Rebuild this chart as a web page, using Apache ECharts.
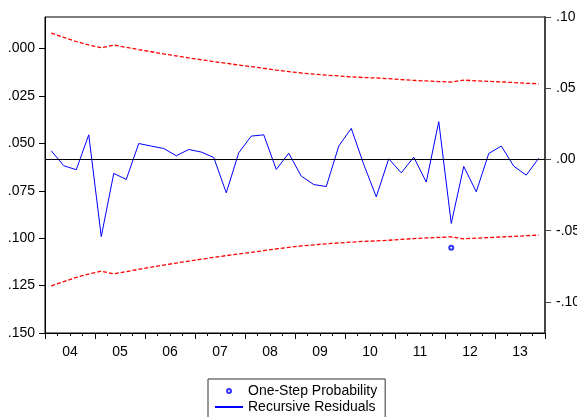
<!DOCTYPE html>
<html>
<head>
<meta charset="utf-8">
<script src="https://cdn.jsdelivr.net/npm/echarts@6/dist/echarts.min.js"></script>
<style>html,body{margin:0;padding:0;background:#fff;}#c{width:577px;height:417px;}</style>
</head>
<body>
<div id="c"></div>
<script>
// Quarterly observations 2004Q1 - 2013Q4
const years = ['04','05','06','07','08','09','10','11','12','13'];
const quarters = [];
years.forEach(y => { for (let q = 1; q <= 4; q++) quarters.push('20' + y + 'Q' + q); });

const recursiveResiduals = [
  0.0061, -0.0044, -0.0072, 0.0173, -0.0541, -0.0098, -0.0140, 0.0112, 0.0094, 0.0077,
  0.0026, 0.0070, 0.0052, 0.0014, -0.0234, 0.0047, 0.0164, 0.0173, -0.0070, 0.0044,
  -0.0117, -0.0176, -0.0190, 0.0094, 0.0218, -0.0035, -0.0262, 0.0005, -0.0094, 0.0016,
  -0.0159, 0.0265, -0.0449, -0.0049, -0.0227, 0.0042, 0.0094, -0.0047, -0.0110, 0.0009
];
const upperBand = [
  0.0887, 0.0857, 0.0828, 0.0804, 0.0784, 0.0803, 0.0787, 0.0771, 0.0756, 0.0741,
  0.0727, 0.0713, 0.0700, 0.0687, 0.0675, 0.0663, 0.0652, 0.0640, 0.0627, 0.0617,
  0.0607, 0.0599, 0.0592, 0.0586, 0.0580, 0.0575, 0.0572, 0.0567, 0.0561, 0.0555,
  0.0551, 0.0547, 0.0543, 0.0557, 0.0552, 0.0548, 0.0544, 0.0540, 0.0535, 0.0531
];
const lowerBand = [
  -0.0887, -0.0857, -0.0828, -0.0804, -0.0784, -0.0803, -0.0787, -0.0771, -0.0756, -0.0741,
  -0.0727, -0.0713, -0.0700, -0.0687, -0.0675, -0.0663, -0.0652, -0.0640, -0.0627, -0.0617,
  -0.0607, -0.0599, -0.0592, -0.0586, -0.0580, -0.0575, -0.0572, -0.0567, -0.0561, -0.0555,
  -0.0551, -0.0547, -0.0543, -0.0557, -0.0552, -0.0548, -0.0544, -0.0540, -0.0535, -0.0531
];
// One-step probabilities shown only where below .15
const oneStepProbability = [
  null, null, null, null, null, null, null, null, null, null,
  null, null, null, null, null, null, null, null, null, null,
  null, null, null, null, null, null, null, null, null, null,
  null, null, 0.105, null, null, null, null, null, null, null
];
const probTicks = [0, 0.025, 0.05, 0.075, 0.1, 0.125, 0.15];
const residTicks = [-0.1, -0.05, 0, 0.05, 0.1];

const FONT = 'Liberation Sans, Arial, sans-serif';
const fmt = (v, d) => { const s = v.toFixed(d); return s.replace('0.', '.'); };

const chart = echarts.init(document.getElementById('c'), null, {renderer: 'canvas'});
chart.setOption({
  animation: false,
  backgroundColor: '#fff',
  grid: {left: 45, right: 32, top: 17, bottom: 84, outerBoundsMode: 'none', containLabel: false,
    show: true, borderColor: '#000', borderWidth: 1, backgroundColor: 'transparent'},
  xAxis: [
    {
      type: 'category', data: quarters, position: 'bottom', boundaryGap: true,
      axisLine: {onZero: false, lineStyle: {color: '#000', width: 1}},
      axisTick: {show: true, interval: 0, length: 3, lineStyle: {color: '#000'}},
      axisLabel: {show: false}, splitLine: {show: false}
    },
    {
      type: 'category', data: years, position: 'bottom', boundaryGap: true,
      axisLine: {onZero: false, lineStyle: {color: '#000', width: 1}},
      axisTick: {show: true, interval: 0, length: 6, lineStyle: {color: '#000'}},
      axisLabel: {show: true, interval: 0, margin: 12, fontSize: 14, color: '#000', fontFamily: FONT},
      splitLine: {show: false}
    }
  ],
  yAxis: [
    {
      type: 'value', position: 'left', inverse: true, min: -0.0166667, max: 0.15,
      axisLine: {show: true, onZero: false, lineStyle: {color: '#000', width: 1}},
      axisTick: {show: true, length: 6, customValues: probTicks, lineStyle: {color: '#000'}},
      axisLabel: {show: true, customValues: probTicks, margin: 10, fontSize: 14, color: '#000', fontFamily: FONT,
        formatter: v => fmt(v, 3)},
      splitLine: {show: false}
    },
    {
      type: 'value', position: 'right', min: -0.1218, max: 0.1,
      axisLine: {show: true, onZero: false, lineStyle: {color: '#444', width: 2}},
      axisTick: {show: true, length: 6, customValues: residTicks, lineStyle: {color: '#444', width: 1}},
      axisLabel: {show: true, customValues: residTicks, margin: 11, fontSize: 14, color: '#000', fontFamily: FONT,
        formatter: v => fmt(v, 2)},
      splitLine: {show: false}
    }
  ],
  legend: {
    orient: 'vertical', left: 208, top: 379, height: 60,
    borderColor: '#333', borderWidth: 1, padding: [5, 8, 6, 6],
    itemWidth: 28, itemHeight: 4, itemGap: 2,
    textStyle: {fontSize: 14, color: '#000', fontFamily: FONT},
    data: [
      {name: 'One-Step Probability', icon: 'emptyCircle'},
      {name: 'Recursive Residuals', itemStyle: {opacity: 0}}
    ]
  },
  series: [
    {
      name: 'One-Step Probability', type: 'scatter', xAxisIndex: 0, yAxisIndex: 0,
      symbol: 'emptyCircle', symbolSize: 4,
      itemStyle: {color: '#0000ff', borderColor: '#0000ff', borderWidth: 1},
      data: oneStepProbability
    },
    {
      name: 'Recursive Residuals', type: 'line', xAxisIndex: 0, yAxisIndex: 1,
      symbol: 'none', showSymbol: false,
      lineStyle: {color: '#0000ff', width: 1},
      itemStyle: {color: '#0000ff'},
      data: recursiveResiduals,
      markLine: {
        silent: true, symbol: ['none', 'none'], label: {show: false},
        lineStyle: {color: '#000', width: 1, type: 'solid'},
        data: [{yAxis: 0}]
      }
    },
    {
      name: 'upper', type: 'line', xAxisIndex: 0, yAxisIndex: 1,
      symbol: 'none', showSymbol: false,
      lineStyle: {color: '#ff0000', width: 1.3, type: [4, 2]},
      data: upperBand
    },
    {
      name: 'lower', type: 'line', xAxisIndex: 0, yAxisIndex: 1,
      symbol: 'none', showSymbol: false,
      lineStyle: {color: '#ff0000', width: 1.3, type: [4, 2]},
      data: lowerBand
    }
  ]
});
</script>
</body>
</html>
